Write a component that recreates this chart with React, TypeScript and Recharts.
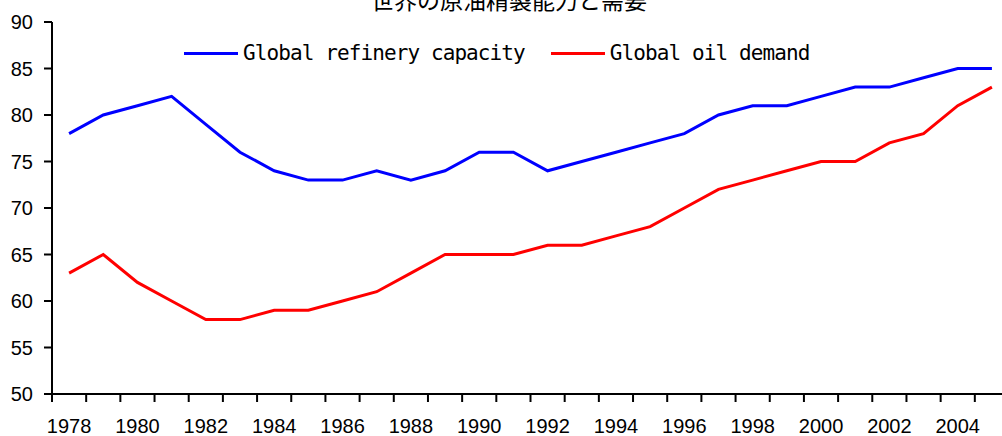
import { Line, LineChart, XAxis, YAxis } from "recharts";

const years = [
  1978, 1979, 1980, 1981, 1982, 1983, 1984, 1985, 1986, 1987, 1988, 1989, 1990,
  1991, 1992, 1993, 1994, 1995, 1996, 1997, 1998, 1999, 2000, 2001, 2002, 2003,
  2004, 2005,
];

const refineryCapacity = [
  78, 80, 81, 82, 79, 76, 74, 73, 73, 74, 73, 74, 76, 76, 74, 75, 76, 77, 78,
  80, 81, 81, 82, 83, 83, 84, 85, 85,
];

const oilDemand = [
  63, 65, 62, 60, 58, 58, 59, 59, 60, 61, 63, 65, 65, 65, 66, 66, 67, 68, 70,
  72, 73, 74, 75, 75, 77, 78, 81, 83,
];

const yTicks = [50, 55, 60, 65, 70, 75, 80, 85, 90];
const labelYears = [
  1978, 1980, 1982, 1984, 1986, 1988, 1990, 1992, 1994, 1996, 1998, 2000, 2002,
  2004,
];

const title = "世界の原油精製能力と需要";
const series = [
  { key: "capacity", name: "Global refinery capacity", color: "#0000ff" },
  { key: "demand", name: "Global oil demand", color: "#ff0000" },
];

const data = years.map((year, i) => ({
  year,
  capacity: refineryCapacity[i],
  demand: oilDemand[i],
}));

// tick marks sit on the boundaries between years, like the Excel original
const boundaryTicks = [...years.map((y) => y - 0.5), years[years.length - 1] + 0.5];
const domain: [number, number] = [years[0] - 0.5, years[years.length - 1] + 0.5];

const axisFont = {
  fill: "#000",
  fontSize: 20,
  fontFamily: "'Liberation Sans', Arial, sans-serif",
};

export default function App() {
  return (
    <div
      style={{
        position: "fixed",
        left: 0,
        top: 0,
        width: 1002,
        height: 436,
        overflow: "hidden",
        background: "#fff",
      }}
    >
      <LineChart
        width={1030}
        height={436}
        data={data}
        margin={{ top: 22, right: 21, bottom: 0, left: 0 }}
        style={{ position: "absolute", left: 0, top: 0 }}
      >
        <XAxis
          xAxisId="axis"
          dataKey="year"
          type="number"
          domain={domain}
          ticks={boundaryTicks}
          interval={0}
          height={1}
          tick={() => <g />}
          tickSize={8}
          axisLine={{ stroke: "#000", strokeWidth: 2 }}
          tickLine={{ stroke: "#000", strokeWidth: 2 }}
        />
        <XAxis
          xAxisId="years"
          dataKey="year"
          type="number"
          domain={domain}
          ticks={labelYears}
          interval={0}
          height={41}
          axisLine={false}
          tickLine={false}
          tickSize={0}
          tickMargin={24}
          tick={axisFont}
        />
        <YAxis
          domain={[50, 90]}
          ticks={yTicks}
          interval={0}
          width={52}
          tickSize={8}
          tickMargin={11}
          tick={axisFont}
          axisLine={{ stroke: "#000", strokeWidth: 2 }}
          tickLine={{ stroke: "#000", strokeWidth: 2 }}
        />
        {series.map((s) => (
          <Line
            key={s.key}
            xAxisId="years"
            type="linear"
            dataKey={s.key}
            name={s.name}
            stroke={s.color}
            strokeWidth={3}
            dot={false}
            isAnimationActive={false}
          />
        ))}
      </LineChart>

      <div
        style={{
          position: "absolute",
          left: 0,
          top: -12,
          width: 1018,
          textAlign: "center",
          fontFamily: "'Noto Sans CJK JP', sans-serif",
          fontSize: 23,
          lineHeight: "23px",
          color: "#000",
        }}
      >
        {title}
      </div>

      <div
        style={{
          position: "absolute",
          left: 184,
          top: 41,
          height: 24,
          display: "flex",
          alignItems: "center",
          fontFamily: "'DejaVu Sans Mono', monospace",
          fontSize: 21,
          letterSpacing: -0.9,
          lineHeight: "24px",
          color: "#000",
          whiteSpace: "nowrap",
        }}
      >
        {series.map((s) => (
          <div key={s.key} style={{ display: "flex", alignItems: "center", marginRight: 26 }}>
            <div style={{ width: 54, height: 3, background: s.color, marginRight: 5 }} />
            <span>{s.name}</span>
          </div>
        ))}
      </div>
    </div>
  );
}
